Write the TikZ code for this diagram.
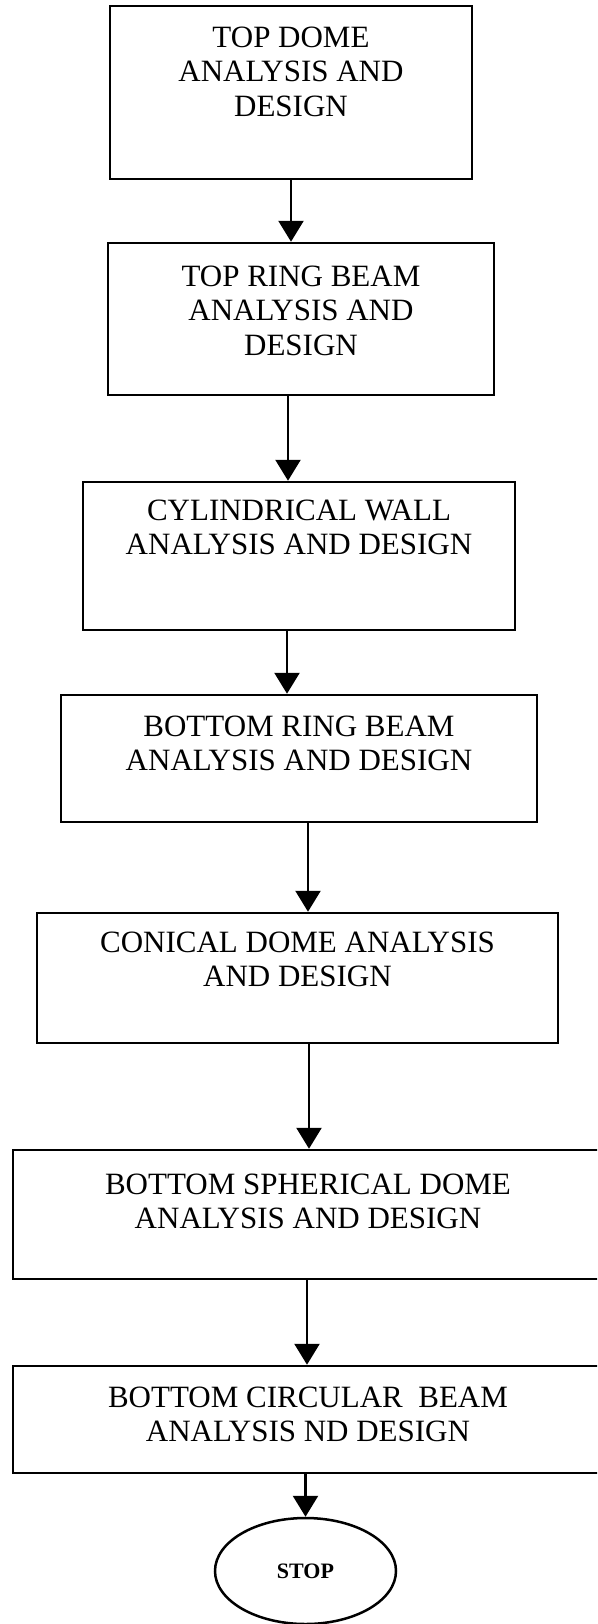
\documentclass[tikz,border=0pt]{standalone}
\usepackage{fontspec}
\setmainfont{Liberation Serif}
\usetikzlibrary{arrows.meta,positioning,shapes.geometric}

\begin{document}
\begin{tikzpicture}[x=1pt,y=-1pt]
        \tikzset{BoxStyle/.style={draw, line width=2.5pt, inner sep=0pt},
        TextStyle/.style={align=center, inner sep=0pt,
                font=\fontsize{31}{34.5}\selectfont},
        StopStyle/.style={draw, ellipse, line width=2.5pt, inner sep=0pt,
                minimum width=181pt, minimum height=106pt,
                font=\fontsize{22}{26}\selectfont\bfseries},
        FlowStyle/.style={line width=2.5pt, -{Triangle[width=25pt,length=21pt]}}}
        \useasboundingbox (0,0) rectangle (597,1624);
        \clip (0,0) rectangle (597,1624);
        \node[BoxStyle, minimum width=362pt, minimum height=173pt] (B1) at (291,92.5) {};
        \node[BoxStyle, minimum width=386pt, minimum height=152pt] (B2) at (301,319) {};
        \node[BoxStyle, minimum width=432pt, minimum height=148pt] (B3) at (299,556) {};
        \node[BoxStyle, minimum width=476pt, minimum height=127pt] (B4) at (299,758.5) {};
        \node[BoxStyle, minimum width=521pt, minimum height=130pt] (B5) at (297.5,978) {};
        \node[BoxStyle, minimum width=590pt, minimum height=129pt] (B6) at (308,1214.5) {};
        \node[BoxStyle, minimum width=590pt, minimum height=107pt] (B7) at (308,1419.5) {};
        \node[StopStyle] (Stop) at (305.5,1571) {STOP};
        \node[TextStyle, below=22pt of B1.north] (T1) {TOP DOME\\ANALYSIS AND\\DESIGN};
        \node[TextStyle, below=24pt of B2.north] (T2) {TOP RING BEAM\\ANALYSIS AND\\DESIGN};
        \node[TextStyle, below=19pt of B3.north] (T3) {CYLINDRICAL WALL\\ANALYSIS AND DESIGN};
        \node[TextStyle, below=22pt of B4.north] (T4) {BOTTOM RING BEAM\\ANALYSIS AND DESIGN};
        \node[TextStyle, below=20pt of B5.north] (T5) {CONICAL DOME ANALYSIS\\AND DESIGN};
        \node[TextStyle, below=25pt of B6.north] (T6) {BOTTOM SPHERICAL DOME\\ANALYSIS AND DESIGN};
        \node[TextStyle, below=22pt of B7.north] (T7) {BOTTOM CIRCULAR~\ BEAM\\ANALYSIS ND DESIGN};
        \draw[FlowStyle] (B1.south) -- (B1.south |- B2.north);
        \draw[FlowStyle] ([xshift=-13pt]B2.south) -- ([xshift=-13pt]B2.south |- B3.north);
        \draw[FlowStyle] ([xshift=-12pt]B3.south) -- ([xshift=-12pt]B3.south |- B4.north);
        \draw[FlowStyle] ([xshift=9pt]B4.south) -- ([xshift=9pt]B4.south |- B5.north);
        \draw[FlowStyle] ([xshift=11.5pt]B5.south) -- ([xshift=11.5pt]B5.south |- B6.north);
        \draw[FlowStyle] ([xshift=-1pt]B6.south) -- ([xshift=-1pt]B6.south |- B7.north);
        \draw[FlowStyle] (B7.south -| Stop.north) -- (Stop.north);
\end{tikzpicture}
\end{document}
